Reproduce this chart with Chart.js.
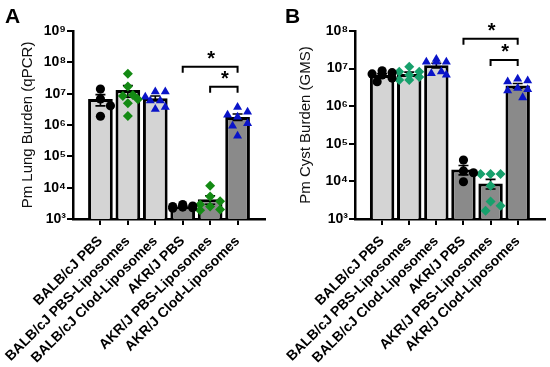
<!DOCTYPE html>
<html><head><meta charset="utf-8">
<script src="https://cdn.jsdelivr.net/npm/chart.js@4.4.1/dist/chart.umd.min.js"></script>
<style>
html,body{margin:0;padding:0;background:#fff;}
#wrap{position:relative;width:550px;height:367px;overflow:hidden;}
.panel{position:absolute;top:0;width:275px;height:367px;}
canvas{display:block;}
</style></head><body>
<div id="wrap">
<div class="panel" style="left:0"><canvas id="cA" width="275" height="367"></canvas></div>
<div class="panel" style="left:275px"><canvas id="cB" width="275" height="367"></canvas></div>
</div>
<script>
// ---------- data ----------
const categories = ['BALB/cJ PBS', 'BALB/cJ PBS-Liposomes', 'BALB/cJ Clod-Liposomes', 'AKR/J PBS', 'AKR/J PBS-Liposomes', 'AKR/J Clod-Liposomes'];

const lungTickExponents = [3, 4, 5, 6, 7, 8, 9];
const cystTickExponents = [3, 4, 5, 6, 7, 8];

// Panel A: Pm Lung Burden (qPCR)
const lungBalbPbs     = [1.4e7, 6.8e6, 4.1e6, 1.9e6];
const lungBalbPbsLip  = [4.3e7, 1.7e7, 8.5e6, 9.1e6, 6.6e6, 4.9e6, 1.95e6];
const lungBalbClodLip = [1.15e7, 7.9e6, 1.15e7, 6.0e6, 6.0e6, 3.2e6, 3.7e6];
const lungAkrPbs      = [2.9e3, 2.6e3, 2.4e3, 2.3e3, 2.2e3, 2.5e3];
const lungAkrPbsLip   = [1.15e4, 5.2e3, 3.7e3, 2.9e3, 2.5e3, 2.0e3, 1.9e3];
const lungAkrClodLip  = [3.7e6, 2.6e6, 2.1e6, 1.8e6, 9.3e5, 1.13e6, 4.5e5];

// Panel B: Pm Cyst Burden (GMS)
const cystBalbPbs     = [8.7e6, 7.8e6, 7.2e6, 6.8e6, 5.6e6, 4.5e6];
const cystBalbPbsLip  = [1.12e7, 8.3e6, 8.3e6, 6.8e6, 6.0e6, 5.0e6, 5.0e6];
const cystBalbClodLip = [1.78e7, 1.5e7, 1.5e7, 1.5e7, 8.3e6, 7.4e6, 6.8e6];
const cystAkrPbs      = [3.7e4, 1.9e4, 1.7e4, 9.8e3];
const cystAkrPbsLip   = [1.57e4, 1.57e4, 1.57e4, 7.7e3, 2.9e3, 2.25e3, 1.66e3];
const cystAkrClodLip  = [5.3e6, 4.5e6, 4.8e6, 2.8e6, 3.0e6, 2.6e6, 1.7e6];

// significance brackets: category index from/to, level on the value axis, label
const lungBrackets = [{from: 3, to: 5, level: 7.2e7, label: '*'}, {from: 4, to: 5, level: 1.66e7, label: '*'}];
const cystBrackets = [{from: 3, to: 5, level: 6.2e7, label: '*'}, {from: 4, to: 5, level: 1.7e7, label: '*'}];

// ---------- styles ----------
const FONT = "'Liberation Sans', Arial, Helvetica, sans-serif";
const barFills = ['#d4d4d4', '#d4d4d4', '#d4d4d4', '#8a8a8a', '#8a8a8a', '#8a8a8a'];
const markerStyles = ['circle', 'rectRot', 'triangle', 'circle', 'rectRot', 'triangle'];
const lungMarkerColors = ['#000000', '#148a14', '#0a14c8', '#000000', '#148a14', '#0a14c8'];
const cystMarkerColors = ['#000000', '#17a06c', '#0a14c8', '#000000', '#17a06c', '#0a14c8'];
const markerRadius = [4.6, 5, 5.2, 4.6, 5, 5.2];

const SUP = {'0':'⁰','1':'¹','2':'²','3':'³','4':'⁴','5':'⁵','6':'⁶','7':'⁷','8':'⁸','9':'⁹'};
const mean = a => a.reduce((s, v) => s + v, 0) / a.length;
const sem = a => { const m = mean(a); const v = a.reduce((s, x) => s + (x - m) ** 2, 0) / (a.length - 1); return Math.sqrt(v / a.length); };

function makePanel(id, letter, title, groups, exps, brackets, colors, geom) {
  const errorBars = {
    id: 'errorBars' + id,
    afterDatasetDraw(chart, args) {
      if (args.index !== 0) return;
      const {ctx, scales: {x, y}} = chart;
      ctx.save();
      ctx.strokeStyle = '#000'; ctx.lineWidth = 1.6;
      groups.forEach((g, i) => {
        const m = mean(g), s = sem(g);
        const px = x.getPixelForValue(i);
        const yt = y.getPixelForValue(m + s);
        const yb = y.getPixelForValue(Math.max(m - s, y.min));
        ctx.beginPath();
        ctx.moveTo(px, yt); ctx.lineTo(px, yb);
        ctx.moveTo(px - 5, yt); ctx.lineTo(px + 5, yt);
        ctx.moveTo(px - 5, yb); ctx.lineTo(px + 5, yb);
        ctx.stroke();
      });
      ctx.restore();
    }
  };
  const annot = {
    id: 'annot' + id,
    afterDraw(chart) {
      const {ctx, scales: {x, y}} = chart;
      ctx.save();
      ctx.strokeStyle = '#000'; ctx.lineWidth = 2; ctx.fillStyle = '#000';
      brackets.forEach(b => {
        const x1 = x.getPixelForValue(b.from), x2 = x.getPixelForValue(b.to);
        const yy = y.getPixelForValue(b.level);
        ctx.beginPath();
        ctx.moveTo(x1, yy + 6); ctx.lineTo(x1, yy); ctx.lineTo(x2, yy); ctx.lineTo(x2, yy + 6);
        ctx.stroke();
        ctx.font = 'bold 20px ' + FONT;
        ctx.textAlign = 'center'; ctx.textBaseline = 'alphabetic';
        ctx.fillText(b.label, (x1 + x2) / 2 + 1, yy - 2);
      });
      ctx.font = 'bold 21px ' + FONT;
      ctx.textAlign = 'left'; ctx.textBaseline = 'alphabetic';
      ctx.fillText(letter, geom.letterX, 23);
      ctx.restore();
    }
  };

  const datasets = [{
    type: 'bar',
    data: groups.map((g, i) => ({x: i, y: mean(g)})),
    backgroundColor: barFills,
    borderColor: '#000',
    borderWidth: 3,
    borderSkipped: 'bottom',
    barPercentage: 0.9,
    categoryPercentage: 1,
    order: 2
  }];
  groups.forEach((g, i) => {
    datasets.push({
      type: 'scatter',
      data: g.map(v => ({x: i, y: v})),
      pointStyle: markerStyles[i],
      pointRadius: markerRadius[i],
      pointHoverRadius: markerRadius[i],
      backgroundColor: colors[i],
      borderColor: colors[i],
      borderWidth: 0,
      order: 1
    });
  });

  const chart = new Chart(document.getElementById(id), {
    type: 'bar',
    data: {datasets},
    options: {
      responsive: false,
      animation: false,
      devicePixelRatio: 1,
      layout: {padding: {left: geom.padLeft, top: 31, right: geom.padRight, bottom: 0}},
      plugins: {legend: {display: false}, tooltip: {enabled: false}},
      scales: {
        x: {
          type: 'linear', min: -1, max: 6, offset: false,
          afterBuildTicks: s => { s.ticks = categories.map((_, i) => ({value: i})); },
          afterFit: s => { s.height = 148; s.paddingLeft = 0; s.paddingRight = 0; },
          ticks: {
            autoSkip: false, minRotation: 45, maxRotation: 45, padding: 8,
            color: '#000', font: {family: FONT, size: 14, weight: 'bold'},
            callback: v => categories[v]
          },
          grid: {offset: false, drawOnChartArea: false, drawTicks: true, tickLength: 6, color: '#000', lineWidth: 2},
          border: {display: true, color: '#000', width: 2.5}
        },
        y: {
          type: 'logarithmic', min: 10 ** exps[0], max: 10 ** exps[exps.length - 1],
          afterBuildTicks: s => { s.ticks = exps.map(e => ({value: 10 ** e})); },
          afterFit: s => { s.width = geom.yWidth; s.paddingTop = 0; s.paddingBottom = 0; },
          ticks: {
            padding: 1, color: '#000', font: {family: FONT, size: 14, weight: 'bold'},
            callback: v => '10' + String(Math.round(Math.log10(v))).split('').map(c => SUP[c]).join('')
          },
          grid: {drawOnChartArea: false, drawTicks: true, tickLength: 6, color: '#000', lineWidth: 2},
          border: {display: true, color: '#000', width: 2.5},
          title: {display: true, text: title, color: '#111', font: {family: FONT, size: 15}, padding: 0}
        }
      }
    },
    plugins: [errorBars, annot]
  });

  // beeswarm-style horizontal spreading of points, computed from the library's scales
  const xs = chart.scales.x, ys = chart.scales.y;
  groups.forEach((g, i) => {
    const cx = xs.getPixelForValue(i);
    const d = markerRadius[i] * 2 * 0.95;
    const step = 5;
    const placed = [];
    const offs = new Array(g.length).fill(0);
    const idx = g.map((_, k) => k).sort((a, b) => g[b] - g[a]);
    idx.forEach(k => {
      const py = ys.getPixelForValue(g[k]);
      let best = 0, bestHit = Infinity;
      for (let t = 0; t < 5; t++) {
        const o = t === 0 ? 0 : (t % 2 ? 1 : -1) * Math.ceil(t / 2) * step;
        let hit = 0;
        placed.forEach(p => { const dd = Math.hypot(p.x - o, p.y - py); if (dd < d) hit += d - dd; });
        if (hit < bestHit - 1e-6) { bestHit = hit; best = o; }
        if (hit === 0) break;
      }
      offs[k] = best;
      placed.push({x: best, y: py});
    });
    chart.data.datasets[i + 1].data = g.map((v, k) => ({x: xs.getValueForPixel(cx + offs[k]), y: v}));
  });
  chart.update('none');
  return chart;
}

makePanel('cA', 'A', 'Pm Lung Burden (qPCR)',
  [lungBalbPbs, lungBalbPbsLip, lungBalbClodLip, lungAkrPbs, lungAkrPbsLip, lungAkrClodLip],
  lungTickExponents, lungBrackets, lungMarkerColors,
  {padLeft: 19, yWidth: 54, padRight: 10, letterX: 5});

makePanel('cB', 'B', 'Pm Cyst Burden (GMS)',
  [cystBalbPbs, cystBalbPbsLip, cystBalbClodLip, cystAkrPbs, cystAkrPbsLip, cystAkrClodLip],
  cystTickExponents, cystBrackets, cystMarkerColors,
  {padLeft: 22, yWidth: 58, padRight: 5, letterX: 10});
</script>
</body></html>
